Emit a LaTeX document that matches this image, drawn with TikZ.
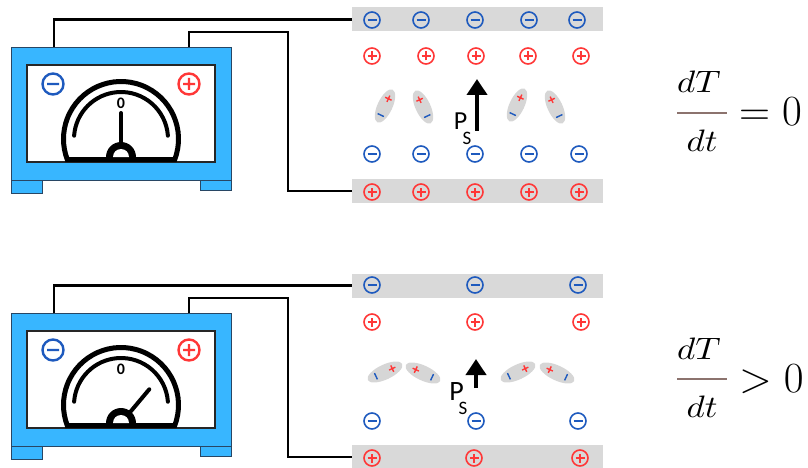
\RequirePackage{fix-cm}
\documentclass[tikz,border=0pt]{standalone}
\usepackage{fontspec}
\usepackage{graphicx}
\newfontfamily\calibri{Carlito}
\usetikzlibrary{arrows.meta}

\definecolor{meterblue}{RGB}{56,182,255}
\definecolor{meteredge}{RGB}{40,70,100}
\definecolor{negblue}{RGB}{30,90,190}
\definecolor{posred}{RGB}{255,55,55}
\definecolor{plategray}{RGB}{217,217,217}
\definecolor{dipgray}{RGB}{214,214,214}
\definecolor{barbrown}{RGB}{140,115,110}

\newcommand\fracpiece[1]{\scalebox{3.5}[3.1]{$#1$}}

\tikzset{
  wire/.style={line width=2.6pt, line join=miter},
  plate/.style={fill=plategray, draw=none, minimum width=251pt, minimum height=24pt, inner sep=0pt},
  psarrow/.style={line width=4pt, -{Triangle[width=20pt,length=16pt]}},
  meterbody/.style={fill=meterblue, draw=meteredge, line width=0.8pt},
  fracpart/.style={anchor=base, inner sep=0pt},
  pics/negcharge/.style={code={
    \draw[negblue, line width=1.6pt] (0,0) circle[radius=8];
    \draw[negblue, line width=1.8pt] (-4.5,0) -- (4.5,0);}},
  pics/poscharge/.style={code={
    \draw[posred, line width=1.6pt] (0,0) circle[radius=8];
    \draw[posred, line width=1.8pt] (-4.5,0) -- (4.5,0) (0,-4.5) -- (0,4.5);}},
  pics/dipole/.style={code={
    \fill[dipgray] (0,0) ellipse[x radius=#1, y radius=7.5];
    \draw[posred, line width=1.4pt] (8,-3.5) -- (8,3.5) (4.5,0) -- (11.5,0);
    \draw[negblue, line width=1.4pt] (-10,-3.5) -- (-10,3.5);}},
  pics/meter/.style={code={
    % housing, feet and dial window
    \draw[meterbody] (-110,-23) rectangle (110,110);
    \draw[meterbody] (-110,-23) rectangle (-79,-36);
    \draw[meterbody] (79,-23) rectangle (110,-33);
    \draw[fill=white, draw=black!85, line width=1.3pt] (-94,-5) rectangle (94,92);
    % terminal marks
    \draw[negblue, line width=2.4pt] (-68,73) circle[radius=10.5] (-74,73) -- (-62,73);
    \draw[posred, line width=2.4pt] (68,73) circle[radius=10.5] (62,73) -- (74,73) (68,67) -- (68,79);
    % dial
    \draw[line width=5pt] (0,18) ++(-21:57.5) arc[start angle=-21, end angle=201, radius=57.5] -- cycle;
    \draw[line width=4pt, line cap=round] (0,18) ++(4:47) arc[start angle=4, end angle=176, radius=47];
    \node[inner sep=0pt] (-zero) at (0,54) {\calibri\bfseries\fontsize{16}{16}\selectfont 0};
    % needle and pivot
    \draw[line width=4pt, line cap=round] (0,0) -- (#1:44);
    \fill (15,0) arc[start angle=0, end angle=180, radius=15] -- cycle;
    \fill[white] (8,0) arc[start angle=0, end angle=180, radius=8] -- cycle;
    \coordinate (-a) at (-67,110);
    \coordinate (-b) at (68,110);
  }},
}

\begin{document}
\begin{tikzpicture}[x=1pt, y=1pt]
\useasboundingbox (0,0) rectangle (808,-468);

% ---------- upper panel: constant temperature ----------
\pic (m1) at (121,-157) {meter=90};
\node[plate] (pt1) at (477.5,-19.5) {};
\node[plate] (pb1) at (477.5,-191) {};
\coordinate (j1) at (288,-32);
\draw[wire] (m1-a) |- (pt1.west);
\draw[wire] (m1-b) |- (j1) |- (pb1.west);

\foreach \x in {372,421,475,529,577} \pic at (\x,-20) {negcharge};
\foreach \x in {372,426,476,528,581} \pic at (\x,-56) {poscharge};
\foreach \x in {372,421,475,529,579} \pic at (\x,-154) {negcharge};
\foreach \x in {372,421,475,529,579} \pic at (\x,-192) {poscharge};

\pic[rotate=65]  at (385,-106) {dipole=18};
\pic[rotate=115] at (423,-107) {dipole=18};
\pic[rotate=65]  at (517,-105) {dipole=18};
\pic[rotate=115] at (555,-107) {dipole=18};

\draw[psarrow] (477,-131) -- (477,-79);
\node[anchor=base, inner sep=0pt] (p1) at (460.5,-129.5) {\calibri\fontsize{26}{26}\selectfont P};
\node[anchor=base, inner sep=0pt] (s1) at (467,-145) {\calibri\fontsize{19}{19}\selectfont S};

\node[fracpart] (num1) at (699,-93) {\fracpiece{dT}};
\node[fracpart] (den1) at (702,-151) {\fracpiece{dt}};
\draw[barbrown, line width=2pt] (677,-113) -- (727,-113);
\node[anchor=base west, inner sep=0pt] (rel1) at (739,-126) {\fontsize{43}{50}\selectfont$=0$};

% ---------- lower panel: rising temperature ----------
\pic (m2) at (121,-423) {meter=50};
\node[plate] (pt2) at (477.5,-285.5) {};
\node[plate] (pb2) at (477.5,-457) {};
\coordinate (j2) at (288,-298);
\draw[wire] (m2-a) |- (pt2.west);
\draw[wire] (m2-b) |- (j2) |- (pb2.west);

\foreach \x in {372,475,578} \pic at (\x,-285) {negcharge};
\foreach \x in {372,475,581} \pic at (\x,-322) {poscharge};
\foreach \x in {372,476,578} \pic at (\x,-421) {negcharge};
\foreach \x in {372,474,580} \pic at (\x,-458) {poscharge};

\pic[rotate=25]  at (385,-372) {dipole=19};
\pic[rotate=155] at (423,-373) {dipole=19};
\pic[rotate=25]  at (518,-372) {dipole=19};
\pic[rotate=155] at (557,-373) {dipole=19};

\draw[psarrow] (476,-388) -- (476,-359);
\node[anchor=base, inner sep=0pt] (p2) at (456.5,-400.5) {\calibri\fontsize{28}{28}\selectfont P};
\node[anchor=base, inner sep=0pt] (s2) at (463,-414.5) {\calibri\fontsize{19}{19}\selectfont S};

\node[fracpart] (num2) at (699,-359) {\fracpiece{dT}};
\node[fracpart] (den2) at (702,-417) {\fracpiece{dt}};
\draw[barbrown, line width=2pt] (677,-379) -- (727,-379);
\node[anchor=base west, inner sep=0pt] (rel2) at (739,-392) {\fontsize{43}{50}\selectfont$>0$};
\end{tikzpicture}
\end{document}
